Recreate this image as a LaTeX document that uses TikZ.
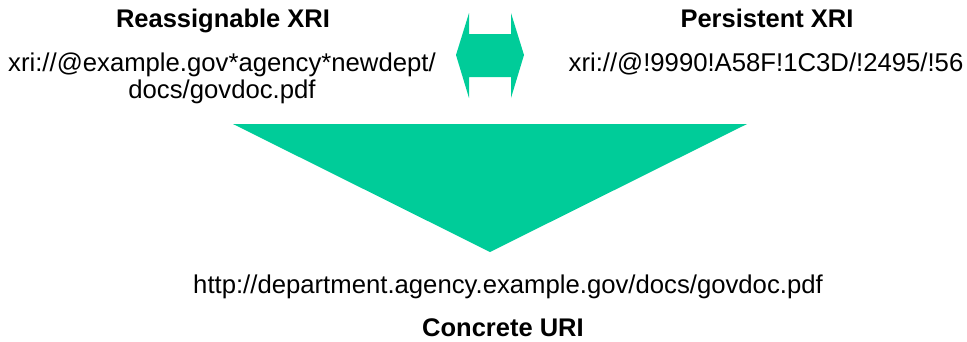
\documentclass[tikz,border=0pt]{standalone}
\usepackage{fontspec}
\setmainfont{Liberation Sans}
\definecolor{xrigreen}{RGB}{0,204,153}
\begin{document}
\begin{tikzpicture}[x=1pt,y=-1pt,
  txtlabel/.style={inner sep=0pt,anchor=base,font=\fontsize{25.7}{27}\selectfont},
  txttitle/.style={txtlabel,font=\fontsize{25.5}{27}\selectfont\bfseries},
  greenfill/.style={fill=xrigreen,draw=none}]
  \useasboundingbox (0,0) rectangle (967,341);
  % two-way arrow between the XRI forms
  \fill[greenfill] (456,55) -- (469,13) -- (469,34) -- (511,34) -- (511,13) -- (524,55)
    -- (511,98) -- (511,77) -- (469,77) -- (469,98) -- cycle;
  % resolution funnel
  \fill[greenfill] (233,124) -- (747,124) -- (490,252) -- cycle;
  \node[txttitle] (rtitle) at (223,27) {Reassignable XRI};
  \node[txtlabel] (rxri) at (222,71) {xri://@example.gov*agency*newdept/};
  \node[txtlabel] (rxri2) at (222,98) {docs/govdoc.pdf};
  \node[txttitle] (ptitle) at (767,27) {Persistent XRI};
  \node[txtlabel] (pxri) at (766,71) {xri://@!9990!A58F!1C3D/!2495/!56};
  \node[txtlabel] (uri) at (508,293) {http://department.agency.example.gov/docs/govdoc.pdf};
  \node[txttitle] (utitle) at (503,336) {Concrete URI};
\end{tikzpicture}
\end{document}
